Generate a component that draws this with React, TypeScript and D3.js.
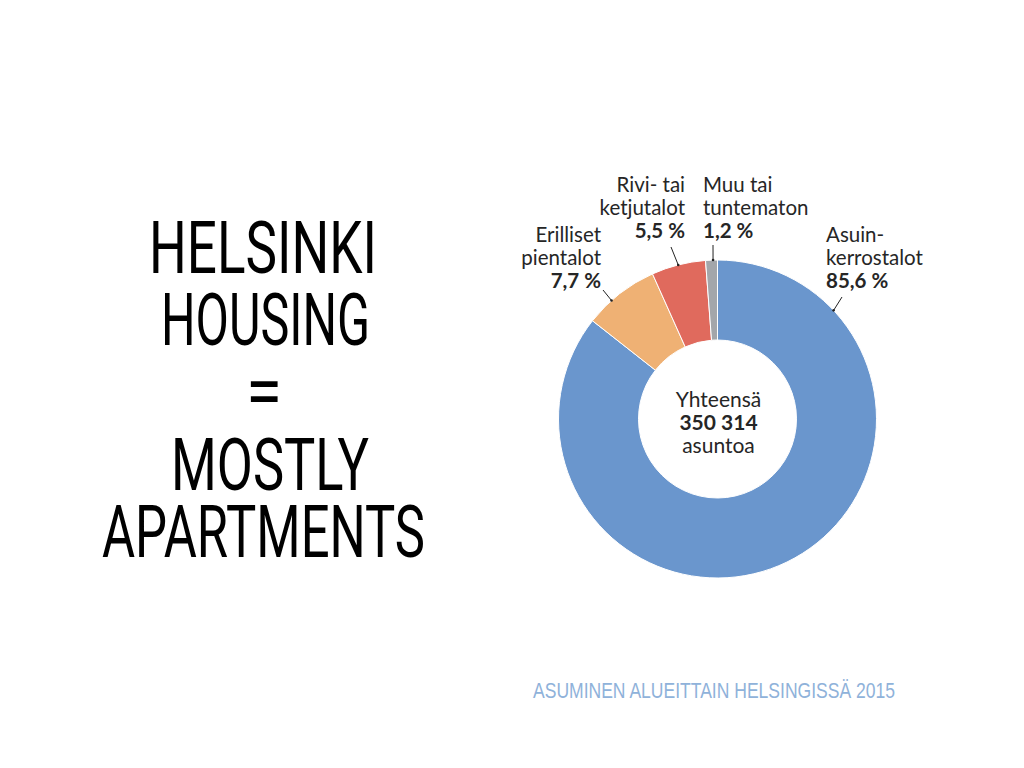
import React from "react";
import * as d3 from "d3";

const titleLines = ["HELSINKI", "HOUSING", "=", "MOSTLY", "APARTMENTS"];
const categories = ["Asuinkerrostalot", "Erilliset pientalot", "Rivi- tai ketjutalot", "Muu tai tuntematon"];
const labelLines = [["Asuin-", "kerrostalot"], ["Erilliset", "pientalot"], ["Rivi- tai", "ketjutalot"], ["Muu tai", "tuntematon"]];
const shares = [85.6, 7.7, 5.5, 1.2];
const percentLabels = ["85,6 %", "7,7 %", "5,5 %", "1,2 %"];
const totalLines = ["Yhteensä", "350 314", "asuntoa"];
const sourceText = "ASUMINEN ALUEITTAIN HELSINGISSÄ 2015";

const colors = ["#6a96cd", "#efb174", "#e06a5d", "#a3a6aa"];

// layout (not data)
const cx = 717.5, cy = 419, rOuter = 159, rInner = 79;
const titleLayout = [
  { x: 149, y: 273, w: 228 },
  { x: 161, y: 345, w: 209 },
  { x: 246, y: 416, w: 36 },
  { x: 171, y: 490, w: 198 },
  { x: 102, y: 557, w: 323 },
];
const labelLayout = [
  { x: 826, y: 242, anchor: "start", hitDeg: 46.9, end: [842, 297] },
  { x: 601, y: 242, anchor: "end", hitDeg: 318.2, end: [603, 290] },
  { x: 685, y: 192, anchor: "end", hitDeg: 345.7, end: [671, 247] },
  { x: 703, y: 192, anchor: "start", hitDeg: 358.4, end: [713, 245] },
];

export default function App() {
  const pie = d3.pie<number>().sort(null).value((d) => d).startAngle(0).endAngle(2 * Math.PI);
  const arcs = pie(shares);
  const arc = d3.arc<d3.PieArcDatum<number>>().innerRadius(rInner).outerRadius(rOuter);
  const labelFont = "Lato, 'Open Sans', sans-serif";

  return (
    <svg
      width={1024}
      height={768}
      style={{ position: "absolute", left: 0, top: 0, display: "block", background: "#fff" }}
    >
      <rect width={1024} height={768} fill="#fff" />
      {titleLines.map((t, i) => (
        <text
          key={t}
          x={titleLayout[i].x}
          y={titleLayout[i].y}
          textLength={titleLayout[i].w}
          lengthAdjust="spacingAndGlyphs"
          fontFamily="Roboto, 'DejaVu Sans', sans-serif"
          fontWeight={400}
          fontSize={72}
          fill="#000"
        >
          {t}
        </text>
      ))}

      <g transform={`translate(${cx},${cy})`}>
        {arcs.map((a, i) => (
          <path key={categories[i]} d={arc(a) || ""} fill={colors[i]} stroke="#fff" strokeWidth={1} />
        ))}
      </g>

      {labelLayout.map((l, i) => {
        const ang = (l.hitDeg * Math.PI) / 180;
        const hx = cx + rOuter * Math.sin(ang);
        const hy = cy - rOuter * Math.cos(ang);
        return (
          <g key={categories[i]}>
            <line x1={l.end[0]} y1={l.end[1]} x2={hx} y2={hy} stroke="#222" strokeWidth={1} />
            <circle cx={hx} cy={hy} r={1.3} fill="#222" />
            {labelLines[i].map((s, j) => (
              <text
                key={s}
                x={l.x}
                y={l.y + j * 23}
                textAnchor={l.anchor}
                fontFamily={labelFont}
                fontSize={20.5}
                fill="#262626"
              >
                {s}
              </text>
            ))}
            <text
              x={l.x}
              y={l.y + 2 * 23}
              textAnchor={l.anchor}
              fontFamily={labelFont}
              fontSize={20.5}
              fontWeight="bold"
              fill="#262626"
            >
              {percentLabels[i]}
            </text>
          </g>
        );
      })}

      {totalLines.map((t, i) => (
        <text
          key={t}
          x={cx + 1}
          y={407 + i * 23}
          textAnchor="middle"
          fontFamily={labelFont}
          fontSize={21}
          fontWeight={i === 1 ? "bold" : "normal"}
          fill="#262626"
        >
          {t}
        </text>
      ))}

      <text
        x={533}
        y={698}
        textLength={362}
        lengthAdjust="spacingAndGlyphs"
        fontFamily="'Liberation Sans', Arial, sans-serif"
        fontSize={22}
        fill="#8fb2da"
      >
        {sourceText}
      </text>
    </svg>
  );
}
